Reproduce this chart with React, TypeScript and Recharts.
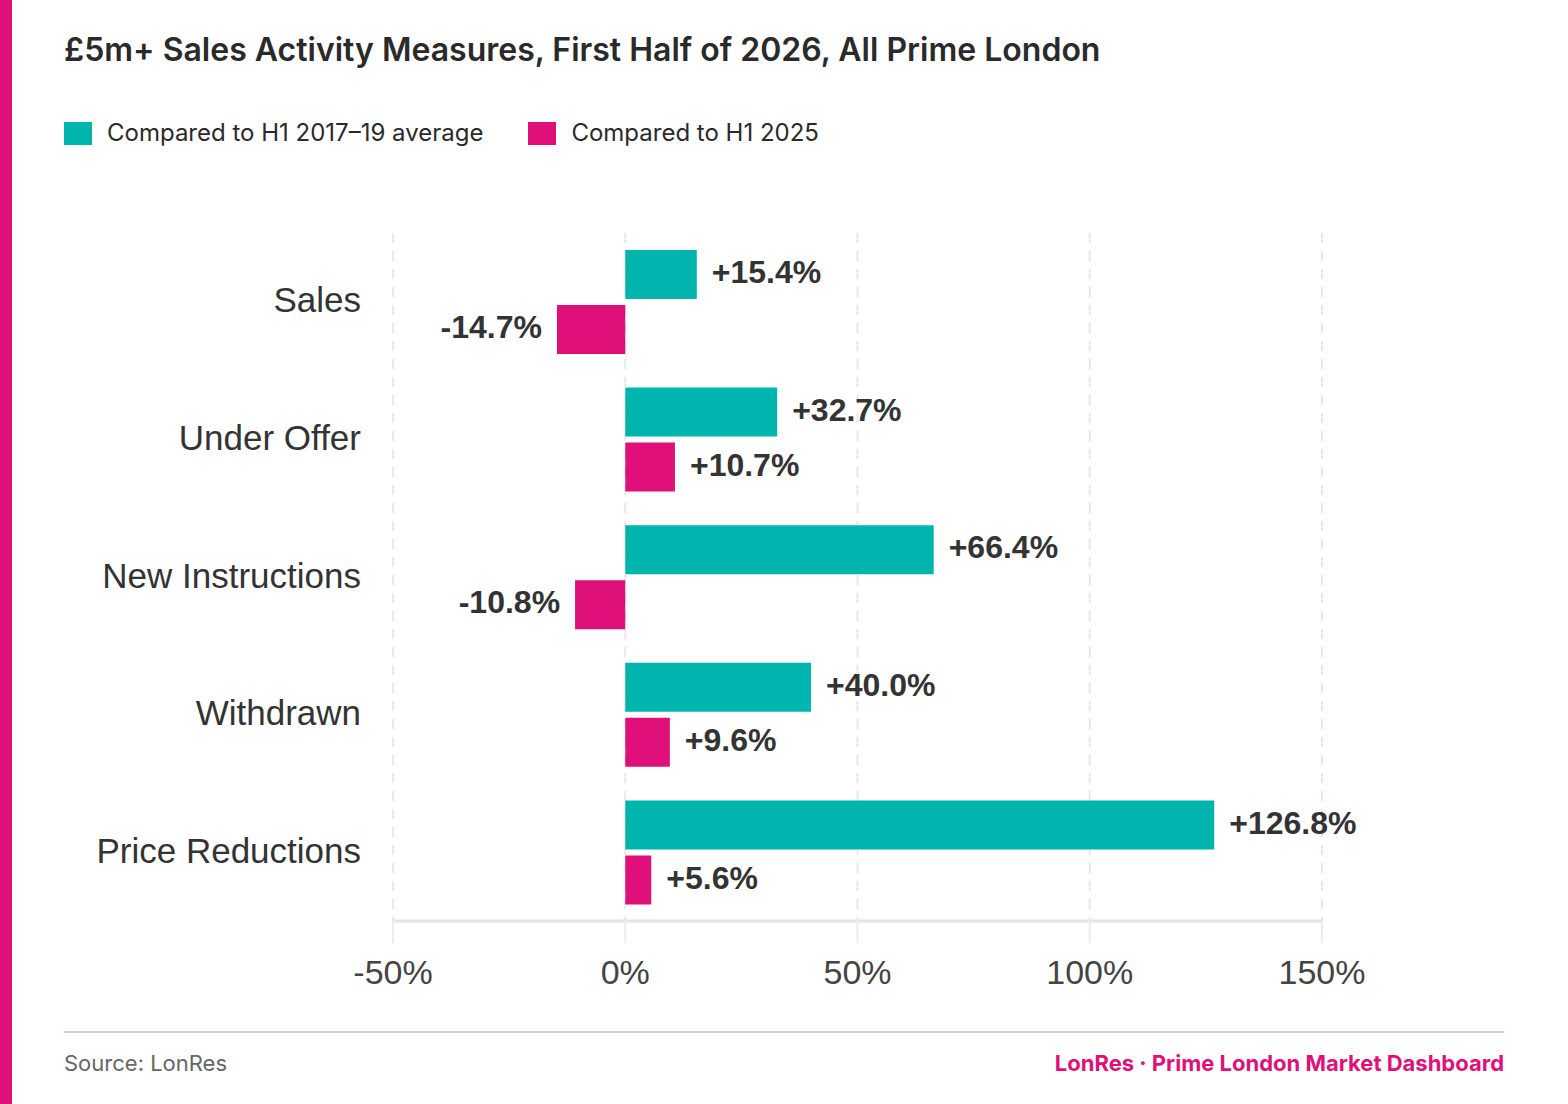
import React from "react";
import { BarChart, Bar, XAxis, YAxis, CartesianGrid, LabelList } from "recharts";

const categories = ["Sales", "Under Offer", "New Instructions", "Withdrawn", "Price Reductions"];
const vsAverage = [15.4, 32.7, 66.4, 40.0, 126.8];
const vsLastYear = [-14.7, 10.7, -10.8, 9.6, 5.6];
const xTicks = [-50, 0, 50, 100, 150];

const TEAL = "#00b5ad";
const PINK = "#e0107a";
const CHART_FONT = '"Liberation Sans", Arial, sans-serif';
const UI_FONT = 'Inter, "Noto Sans", sans-serif';

const data = categories.map((name, i) => ({ name, avg: vsAverage[i], h1: vsLastYear[i] }));

const fmt = (v: number) => (v > 0 ? "+" : "") + v.toFixed(1) + "%";

const ValueLabel = (props: any) => {
  const { x, y, width, height, value } = props;
  const left = Math.min(x, x + width);
  const right = Math.max(x, x + width);
  const cy = y + height / 2;
  const neg = value < 0;
  return (
    <text
      x={neg ? left - 15 : right + 15}
      y={cy}
      dy="0.27em"
      textAnchor={neg ? "end" : "start"}
      fontFamily={CHART_FONT}
      fontWeight={700}
      fontSize={32}
      fill="#333333"
    >
      {fmt(value)}
    </text>
  );
};

const CategoryTick = (props: any) => {
  const { x, y, payload } = props;
  return (
    <text x={x} y={y} dy="0.3em" textAnchor="end" fontFamily={CHART_FONT} fontSize={35} fill="#333333">
      {payload.value}
    </text>
  );
};

export default function App() {
  return (
    <div style={{ position: "absolute", left: 0, top: 0, width: 1568, height: 1104, background: "#ffffff", overflow: "hidden" }}>
      <div style={{ position: "absolute", left: 0, top: 0, width: 12, height: 1104, background: PINK }} />
      <div
        style={{
          position: "absolute",
          left: 64,
          top: 30,
          fontFamily: UI_FONT,
          fontWeight: 600,
          fontSize: 32,
          lineHeight: "40px",
          color: "#2a2a2a",
          whiteSpace: "nowrap",
        }}
      >
        £5m+ Sales Activity Measures, First Half of 2026, All Prime London
      </div>
      <div style={{ position: "absolute", left: 64, top: 118, display: "flex", alignItems: "center", fontFamily: UI_FONT, fontSize: 24, color: "#2a2a2a", whiteSpace: "nowrap" }}>
        <div style={{ width: 28, height: 23, background: TEAL, marginRight: 15 }} />
        <span style={{ lineHeight: "30px" }}>Compared to H1 2017–19 average</span>
        <div style={{ width: 28, height: 23, background: PINK, marginLeft: 45, marginRight: 15 }} />
        <span style={{ lineHeight: "30px" }}>Compared to H1 2025</span>
      </div>
      <div style={{ position: "absolute", left: 0, top: 0 }}>
        <BarChart
          width={1568}
          height={1010}
          data={data}
          layout="vertical"
          margin={{ top: 233, right: 246, left: 0, bottom: 0 }}
          barSize={49}
          barGap={6}
        >
          <CartesianGrid horizontal={false} vertical={true} stroke="#e8e8e8" strokeWidth={2} strokeDasharray="10 8" />
          <XAxis
            type="number"
            domain={[-50, 150]}
            ticks={xTicks}
            tickFormatter={(v: number) => `${v}%`}
            height={89}
            axisLine={{ stroke: "#e3e3e3", strokeWidth: 3 }}
            tickLine={{ stroke: "#ececec", strokeWidth: 2 }}
            tickSize={22}
            tickMargin={17}
            tick={{ fontFamily: CHART_FONT, fontSize: 34, fill: "#444444" }}
            allowDataOverflow
          />
          <YAxis
            type="category"
            dataKey="name"
            width={393}
            axisLine={false}
            tickLine={false}
            tickSize={0}
            tickMargin={32}
            tick={<CategoryTick />}
          />
          <Bar dataKey="avg" fill={TEAL} isAnimationActive={false}>
            <LabelList dataKey="avg" content={ValueLabel} />
          </Bar>
          <Bar dataKey="h1" fill={PINK} isAnimationActive={false}>
            <LabelList dataKey="h1" content={ValueLabel} />
          </Bar>
        </BarChart>
      </div>
      <div style={{ position: "absolute", left: 64, top: 1031, width: 1440, height: 2, background: "#d8d0c8" }} />
      <div style={{ position: "absolute", left: 64, top: 1050, fontFamily: UI_FONT, fontSize: 22, lineHeight: "26px", color: "#666666", whiteSpace: "nowrap" }}>
        Source: LonRes
      </div>
      <div style={{ position: "absolute", right: 64, top: 1050, fontFamily: UI_FONT, fontWeight: 700, fontSize: 22, lineHeight: "26px", color: PINK, whiteSpace: "nowrap" }}>
        LonRes · Prime London Market Dashboard
      </div>
    </div>
  );
}
